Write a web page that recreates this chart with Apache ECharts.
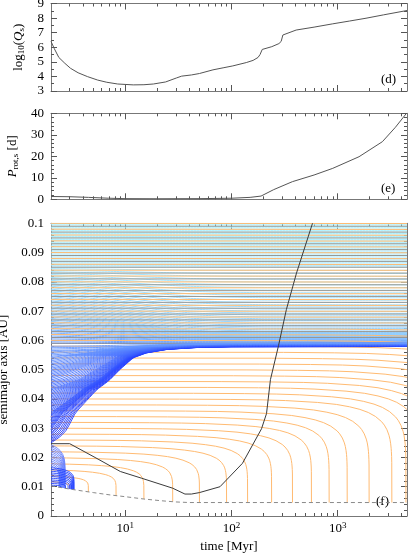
<!DOCTYPE html>
<html>
<head>
<meta charset="utf-8">
<title>tidal evolution</title>
<script src="https://cdn.jsdelivr.net/npm/echarts@6.0.0/dist/echarts.min.js"></script>
<style>
  html, body { margin: 0; padding: 0; background: #fff; }
  #chart { width: 409px; height: 557px; }
</style>
</head>
<body>
<div id="chart"></div>
<script>
// panel (d): log10 of the stellar tidal quality factor
var qTime = [2, 2.15, 2.37, 2.7, 3.05, 3.6, 4.4, 5.5, 6.7, 8.5, 11.9, 15, 18.4, 24, 30.5, 34, 42, 50, 67, 85, 103, 138, 160, 178, 186, 195, 240, 280, 294, 305, 407, 600, 890, 1300, 1850, 2700, 4500];
var qLog = [6.4, 5.9, 5.3, 4.9, 4.56, 4.25, 3.99, 3.75, 3.6, 3.48, 3.42, 3.43, 3.48, 3.62, 3.9, 4.02, 4.1, 4.2, 4.45, 4.6, 4.72, 4.95, 5.1, 5.3, 5.5, 5.85, 6.04, 6.25, 6.4, 6.84, 7.18, 7.38, 7.6, 7.8, 7.99, 8.22, 8.52];

// panel (e): stellar rotation period [d]
var pTime = [2, 3, 4.5, 7, 10, 20, 50, 100, 150, 190, 250, 375, 600, 900, 1590, 2640, 3500, 4450];
var pDays = [1.3, 1.2, 0.9, 0.5, 0.3, 0.25, 0.3, 0.5, 0.9, 1.5, 4.5, 8.2, 11.3, 14.4, 19.8, 26.8, 33.5, 40];

// panel (f): Roche limit (dashed) and corotation radius (black)
var rocheTime = [2, 3, 5, 7.2, 10, 15, 22, 30, 40, 4500];
var rocheA = [0.0103, 0.0092, 0.008, 0.0072, 0.0066, 0.0058, 0.0052, 0.0048, 0.0046, 0.0046];
var coroTime = [2, 3, 5.2, 9, 14.3, 28, 36.5, 42, 50, 78, 127, 192, 214, 233, 278, 329, 410, 580];
var coroA = [0.0247, 0.0247, 0.02, 0.0152, 0.0129, 0.0095, 0.0075, 0.0075, 0.008, 0.01, 0.018, 0.0298, 0.035, 0.0466, 0.0583, 0.0705, 0.083, 0.1];

// orange orbits: initial a [AU] and time they reach the Roche limit [Myr]
var orangeA0 = [0.012, 0.014, 0.016, 0.018, 0.020, 0.022, 0.024, 0.026, 0.028, 0.030, 0.032, 0.034, 0.036, 0.038, 0.040, 0.042, 0.044, 0.046, 0.048, 0.050, 0.052, 0.054, 0.056, 0.058, 0.060, 0.062, 0.064, 0.066, 0.068, 0.070, 0.072, 0.074, 0.076, 0.078, 0.080, 0.082, 0.084, 0.086, 0.088, 0.090, 0.092, 0.094, 0.096, 0.098, 0.100];
var orangeFall = [3.0, 4.5, 8.2, 15, 28, 50, 90, 142, 239, 376, 567, 832, 1231, 1980, 3240, 4400, 6000, 8000, 10500, 14000, 18500, 24000, 31000, 40000, 52000, 70000, 90000, 1e6, 1e6, 1e6, 1e6, 1e6, 1e6, 1e6, 1e6, 1e6, 1e6, 1e6, 1e6, 1e6, 1e6, 1e6, 1e6, 1e6, 1e6];
// shape of an inspiral: remaining fraction vs fraction of its lifetime
var decayU = [0, 0.01, 0.03, 0.06, 0.1, 0.2, 0.3, 0.4, 0.5, 0.6, 0.7, 0.8, 0.85, 0.9, 0.94, 0.96, 0.975, 0.985, 0.99, 0.995, 0.998, 1];
var decayS = [1, 0.998, 0.995, 0.991, 0.984, 0.966, 0.947, 0.924, 0.899, 0.869, 0.831, 0.781, 0.747, 0.702, 0.649, 0.61, 0.567, 0.524, 0.492, 0.443, 0.384, 0];

// grey orbits (stay put)
var grayA0 = [0.059, 0.061, 0.063, 0.065, 0.067, 0.069, 0.071, 0.073, 0.075, 0.077, 0.079, 0.081, 0.083, 0.085, 0.087, 0.089, 0.091, 0.093, 0.095, 0.097, 0.099];

// blue orbits inside corotation: initial a and end time
var innerA0 = [0.0243, 0.0237, 0.0231, 0.0225, 0.0219, 0.0213, 0.0207, 0.0201, 0.0195, 0.0189, 0.0183, 0.0177, 0.0171, 0.0165, 0.0159, 0.0153, 0.0147, 0.0141, 0.0135, 0.0129, 0.0123, 0.0117, 0.0111, 0.0105];
var innerEnd = [2.72, 2.7, 2.68, 2.66, 2.63, 2.6, 2.57, 2.54, 2.51, 2.48, 2.45, 2.42, 2.39, 3.3, 3.27, 3.24, 3.2, 3.16, 3.12, 3.07, 3.0, 2.9, 2.75, 2.5];

// blue orbits outside corotation: outward track and relaxation of outer orbits
var envTime = [2, 2.3, 2.6, 2.9, 3.5, 4.5, 5.5, 7.2, 9, 12, 16, 25, 50, 100, 4500];
var envA = [0.0245, 0.026, 0.0275, 0.0295, 0.0355, 0.040, 0.0435, 0.0468, 0.0505, 0.0546, 0.0563, 0.0575, 0.0582, 0.0584, 0.0585];
var endLow = [0.0579, 0.0591];   // where the outward orbits settle (lowest, highest start)
var relaxTime = [2, 3, 5, 10, 20, 40, 80, 200, 4500];
var relaxFrac = [1, 0.9, 0.75, 0.5, 0.28, 0.12, 0.05, 0.01, 0];
var blueLow = [0.025, 0.058, 0.0005];   // first, last, step of initial a
var blueHigh = [0.059, 0.1, 0.0005];

var xMajor = [1, 2, 3];   // log10 of 10, 100, 1000 Myr
var xMinorMyr = [3, 4, 5, 6, 7, 8, 9, 20, 30, 40, 50, 60, 70, 80, 90, 200, 300, 400, 500, 600, 700, 800, 900, 2000, 3000, 4000];

var FONT = '"Liberation Serif", "Times New Roman", serif';
var T0 = 2, T1 = 4500;

function lx(t) { return Math.log(t) / Math.LN10; }
function lin(xs, ys, x) {
  if (x <= xs[0]) return ys[0];
  for (var i = 1; i < xs.length; i++) {
    if (x <= xs[i]) {
      var f = (x - xs[i - 1]) / (xs[i] - xs[i - 1]);
      return ys[i - 1] + f * (ys[i] - ys[i - 1]);
    }
  }
  return ys[ys.length - 1];
}
var rocheL = rocheTime.map(lx), envL = envTime.map(lx), relaxL = relaxTime.map(lx);
function roche(t) { return lin(rocheL, rocheA, lx(t)); }

var tGrid = [];
for (var k = 0; k <= 120; k++) tGrid.push(Math.pow(10, lx(T0) + k * (lx(T1) - lx(T0)) / 120));

var blueStops = [[0.025, [35, 60, 255]], [0.045, [75, 115, 255]], [0.0585, [105, 155, 255]], [0.066, [140, 200, 255]], [0.08, [160, 226, 255]], [0.1, [172, 242, 255]]];
function blueColor(a) {
  var xs = blueStops.map(function (s) { return s[0]; });
  var c = [0, 1, 2].map(function (j) { return Math.round(lin(xs, blueStops.map(function (s) { return s[1][j]; }), a)); });
  return 'rgb(' + c.join(',') + ')';
}

function line(data, color, gi, width, extra) {
  var s = {
    type: 'line', data: data, symbol: 'none', silent: true, animation: false,
    xAxisIndex: gi * 4, yAxisIndex: gi * 2,
    lineStyle: { width: width || 1, color: color }
  };
  for (var key in extra) s.lineStyle[key] = extra[key];
  return s;
}

// an inspiral from a0 (at tStart) down to the Roche limit at tEnd
function inspiral(a0, tStart, tEnd) {
  var pts = [];
  function at(u) {
    var t = tStart + u * (tEnd - tStart);
    var r = roche(t);
    return [lx(t), r + (a0 - r) * lin(decayU, decayS, u)];
  }
  var u0 = (T0 - tStart) / (tEnd - tStart);
  pts.push(at(Math.max(u0, 0)));
  decayU.forEach(function (u) {
    var t = tStart + u * (tEnd - tStart);
    if (t > T0 && t <= T1) pts.push(at(u));
  });
  if (tEnd > T1) pts.push(at((T1 - tStart) / (tEnd - tStart)));
  return pts;
}

var series = [];
series.push(line(qTime.map(function (t, i) { return [lx(t), qLog[i]]; }), '#555', 0));
series.push(line(pTime.map(function (t, i) { return [lx(t), pDays[i]]; }), '#555', 1));

// blue orbits starting outside 0.0585 relax slowly inward
for (var a0 = blueHigh[0]; a0 <= blueHigh[1] + 1e-9; a0 += blueHigh[2]) {
  var w = a0 <= 0.07 ? 1 : Math.max(0, (0.085 - a0) / 0.015);
  var aInf = a0 - (a0 - 0.0587) * 0.65 * w;
  (function (a0, aInf) {
    series.push(line(tGrid.map(function (t) {
      return [lx(t), aInf + (a0 - aInf) * lin(relaxL, relaxFrac, lx(t))];
    }), blueColor(a0), 2));
  })(a0, aInf);
}

orangeA0.forEach(function (a0, i) {
  series.push(line(inspiral(a0, 0, orangeFall[i]), '#ffbb72', 2));
});
grayA0.forEach(function (a0) {
  series.push(line([[lx(T0), a0], [lx(T1), a0]], '#978f85', 2, 0.9));
});

// blue orbits migrating outward along the common track
for (var b0 = blueLow[0]; b0 <= blueLow[1] + 1e-9; b0 += blueLow[2]) {
  (function (a0) {
    var shift = Math.pow(10, lin(envA, envL, a0)) - T0;
    var settle = endLow[0] + (endLow[1] - endLow[0]) * (a0 - blueLow[0]) / (blueLow[1] - blueLow[0]);
    var scale = (settle - a0) / (envA[envA.length - 1] - a0 + 1e-9);
    series.push(line(tGrid.map(function (t) {
      return [lx(t), a0 + (lin(envL, envA, lx(t + shift)) - a0) * scale];
    }), blueColor(a0), 2, 0.9));
  })(b0);
}
innerA0.forEach(function (a0, i) {
  var c = innerEnd[i] > 2.9 || a0 < 0.0165 ? '#2443ff' : '#6680ff';
  series.push(line(inspiral(a0, T0, innerEnd[i]), c, 2, 0.9));
});

series.push(line(rocheTime.map(function (t, i) { return [lx(t), rocheA[i]]; }), '#8a8a8a', 2, 1, { type: [4, 3] }));
series.push(line(coroTime.map(function (t, i) { return [lx(t), coroA[i]]; }), '#3a3a3a', 2));

var xMinor = xMinorMyr.map(lx);
var AX = '#777', TK = '#555';

function xAxesFor(gi, labels) {
  function base(extra) {
    var a = {
      type: 'value', gridIndex: gi, min: lx(T0), max: lx(T1),
      splitLine: { show: false }, axisLabel: { show: false }
    };
    for (var key in extra) a[key] = extra[key];
    return a;
  }
  var on = { show: true, onZero: false, lineStyle: { color: AX, width: 1 } };
  var off = { show: false, onZero: false };
  var major = { show: true, inside: true, length: 6, customValues: xMajor, lineStyle: { color: TK } };
  var minor = { show: true, inside: true, length: 3, customValues: xMinor, lineStyle: { color: TK } };
  var axes = [
    base({ position: 'bottom', axisLine: on, axisTick: major }),
    base({ position: 'bottom', axisLine: off, axisTick: minor }),
    base({ position: 'top', axisLine: on, axisTick: major }),
    base({ position: 'top', axisLine: off, axisTick: minor })
  ];
  if (labels) {
    axes[0].axisLabel = {
      show: true, customValues: xMajor, margin: 5, color: '#000',
      formatter: function (v) { return '{b|10}{sup|' + Math.round(v) + '}'; },
      rich: {
        b: { fontFamily: FONT, fontSize: 13, color: '#000' },
        sup: { fontFamily: FONT, fontSize: 9, color: '#000', padding: [0, 0, 7, 0] }
      }
    };
    axes[0].name = 'time [Myr]';
    axes[0].nameLocation = 'middle';
    axes[0].nameGap = 24;
    axes[0].nameTextStyle = { fontFamily: FONT, fontSize: 13, color: '#000' };
  }
  return axes;
}

function yAxesFor(gi, min, max, interval, split, name, gap, fmt) {
  var common = {
    type: 'value', gridIndex: gi, min: min, max: max, interval: interval,
    axisLine: { show: true, onZero: false, lineStyle: { color: AX, width: 1 } },
    axisTick: { inside: true, length: 6, lineStyle: { color: TK } },
    minorTick: { show: true, splitNumber: split, length: 3, lineStyle: { color: TK } },
    splitLine: { show: false }, minorSplitLine: { show: false }
  };
  var left = Object.assign({}, common, {
    position: 'left',
    axisLabel: { fontFamily: FONT, fontSize: 13, color: '#000', margin: 7, formatter: fmt },
    name: name, nameLocation: 'middle', nameGap: gap,
    nameTextStyle: {
      fontFamily: FONT, fontSize: 13, color: '#000',
      rich: {
        n: { fontFamily: FONT, fontSize: 13, color: '#000' },
        i: { fontFamily: FONT, fontSize: 13, color: '#000', fontStyle: 'italic' },
        s: { fontFamily: FONT, fontSize: 9, color: '#000', padding: [7, 0, 0, 0] }
      }
    }
  });
  var right = Object.assign({}, common, { position: 'right', axisLabel: { show: false } });
  return [left, right];
}

var chart = echarts.init(document.getElementById('chart'), null, { renderer: 'canvas' });
chart.setOption({
  animation: false,
  backgroundColor: '#fff',
  textStyle: { fontFamily: FONT },
  grid: [
    { left: 51, right: 2, top: 3.5, height: 87.5, outerBoundsMode: 'none' },
    { left: 51, right: 2, top: 113.3, height: 86, outerBoundsMode: 'none' },
    { left: 51, right: 2, top: 223.3, height: 292.7, outerBoundsMode: 'none' }
  ],
  xAxis: [].concat(xAxesFor(0, false), xAxesFor(1, false), xAxesFor(2, true)),
  yAxis: [].concat(
    yAxesFor(0, 3, 9, 1, 2, '{n|log}{s|10}{n|(}{i|Q}{s|s}{n|)}', 19),
    yAxesFor(1, 0, 40, 10, 5, '{i|P}{s|rot,s}{n| [d]}', 20),
    yAxesFor(2, 0, 0.1, 0.01, 5, 'semimajor axis [AU]', 35,
      function (v) { return v === 0 ? '0' : String(+v.toFixed(2)); })
  ),
  graphic: [
    { type: 'text', x: 381, y: 73, style: { text: '(d)', font: '13px "Liberation Serif"', fill: '#000' } },
    { type: 'text', x: 381, y: 182, style: { text: '(e)', font: '13px "Liberation Serif"', fill: '#000' } },
    { type: 'text', x: 376, y: 495, style: { text: '(f)', font: '13px "Liberation Serif"', fill: '#000' } }
  ],
  series: series
});
</script>
</body>
</html>
